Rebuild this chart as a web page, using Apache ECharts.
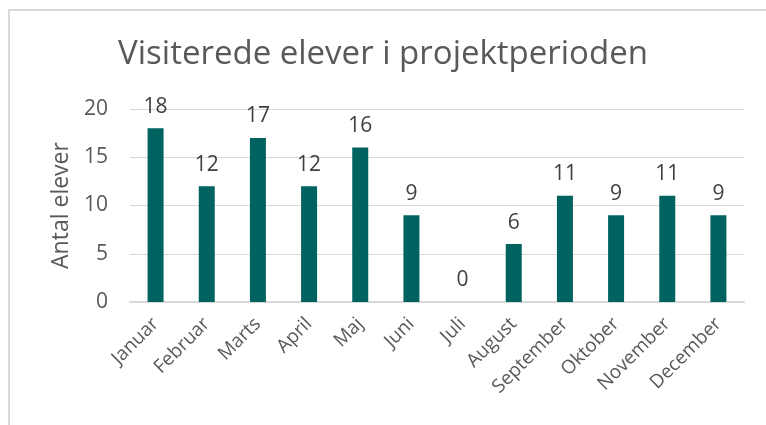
<!DOCTYPE html>
<html lang="da">
<head>
<meta charset="utf-8">
<title>Visiterede elever</title>
<script src="https://cdn.jsdelivr.net/npm/echarts@6/dist/echarts.min.js"></script>
<style>
  html, body { margin: 0; padding: 0; background: #fff; }
  #chart { width: 766px; height: 425px; }
</style>
</head>
<body>
<div id="chart"></div>
<script>
// data
var months = ['Januar', 'Februar', 'Marts', 'April', 'Maj', 'Juni', 'Juli', 'August', 'September', 'Oktober', 'November', 'December'];
var elever = [18, 12, 17, 12, 16, 9, 0, 6, 11, 9, 11, 9];
var yTicks = [0, 5, 10, 15, 20];

var font = '"Open Sans", "Noto Sans", sans-serif';
var chart = echarts.init(document.getElementById('chart'));

chart.setOption({
  animation: false,
  backgroundColor: '#fff',
  graphic: [{
    type: 'rect',
    shape: { x: 9, y: 10, width: 800, height: 500 },
    style: { fill: 'none', stroke: '#d9d9d9', lineWidth: 2 }
  }],
  title: {
    text: 'Visiterede elever i projektperioden',
    left: 'center',
    top: 33,
    textStyle: { fontFamily: font, fontSize: 33, fontWeight: 'normal', color: '#595959' }
  },
  grid: { left: 130, right: 22, top: 109, bottom: 123 },
  xAxis: {
    type: 'category',
    data: months,
    axisLine: { lineStyle: { color: '#d9d9d9', width: 2 } },
    axisTick: { show: false },
    axisLabel: {
      rotate: 45, interval: 0, margin: 19,
      fontFamily: font, fontSize: 19, color: '#595959'
    }
  },
  yAxis: {
    type: 'value',
    min: yTicks[0],
    max: yTicks[yTicks.length - 1],
    interval: 5,
    name: 'Antal elever',
    nameLocation: 'middle',
    nameGap: 56,
    nameTextStyle: { fontFamily: font, fontSize: 23, color: '#595959' },
    axisLine: { show: false },
    axisTick: { show: false },
    splitLine: { lineStyle: { color: '#d9d9d9', width: 1 } },
    axisLabel: { margin: 22, fontFamily: font, fontSize: 21, color: '#595959' }
  },
  series: [{
    type: 'bar',
    data: elever,
    barWidth: 16,
    itemStyle: { color: '#006360' },
    label: {
      show: true,
      position: 'top',
      distance: 11,
      fontFamily: font,
      fontSize: 21,
      color: '#404040'
    }
  }]
});
</script>
</body>
</html>
